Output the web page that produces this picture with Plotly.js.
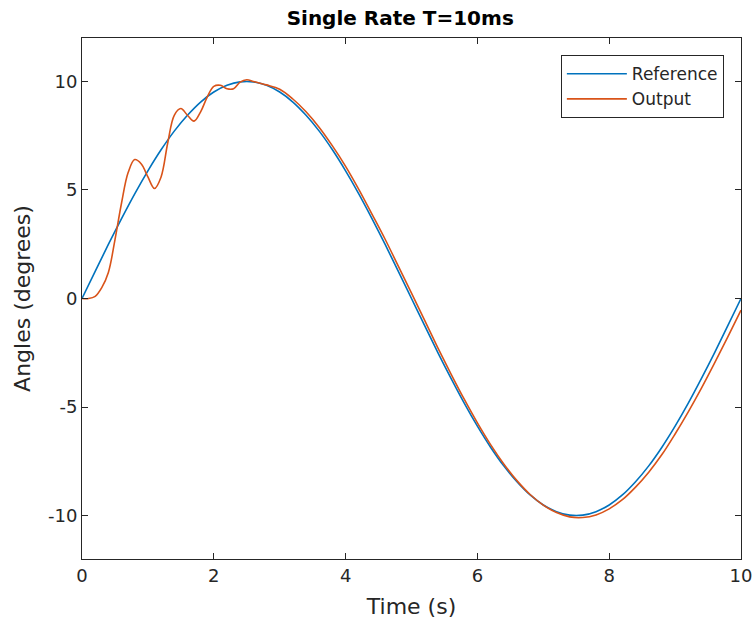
<!DOCTYPE html>
<html>
<head>
<meta charset="utf-8">
<script src="https://cdn.plot.ly/plotly-3.0.1.min.js"></script>
<style>html,body{margin:0;padding:0;background:#fff;}#chart{width:756px;height:623px;}</style>
</head>
<body>
<div id="chart"></div>
<script>
// Reference series (time in s, angle in degrees)
const refTime = [0,0.2,0.4,0.6,0.8,1.0,1.2,1.4,1.6,1.8,2.0,2.2,2.4,2.6,2.8,3.0,3.2,3.4,3.6,3.8,4.0,4.2,4.4,4.6,4.8,5.0,5.2,5.4,5.6,5.8,6.0,6.2,6.4,6.6,6.8,7.0,7.2,7.4,7.6,7.8,8.0,8.2,8.4,8.6,8.8,9.0,9.2,9.4,9.6,9.8,10.0];
const refAngle = [0,1.25,2.49,3.68,4.82,5.88,6.85,7.71,8.44,9.05,9.51,9.82,9.98,9.98,9.82,9.51,9.05,8.44,7.71,6.85,5.88,4.82,3.68,2.49,1.25,0,-1.25,-2.49,-3.68,-4.82,-5.88,-6.85,-7.71,-8.44,-9.05,-9.51,-9.82,-9.98,-9.98,-9.82,-9.51,-9.05,-8.44,-7.71,-6.85,-5.88,-4.82,-3.68,-2.49,-1.25,0];

// Output series
const outTime = [0,0.1,0.2,0.3,0.4,0.5,0.6,0.7,0.8,0.9,1.0,1.1,1.2,1.3,1.4,1.5,1.6,1.7,1.8,1.9,2.0,2.1,2.2,2.3,2.4,2.5,2.6,2.7,2.8,3.0,3.2,3.4,3.6,3.8,4.0,4.2,4.4,4.6,4.8,5.0,5.2,5.4,5.6,5.8,6.0,6.2,6.4,6.6,6.8,7.0,7.2,7.4,7.6,7.8,8.0,8.2,8.4,8.6,8.8,9.0,9.2,9.4,9.6,9.8,10.0];
const outAngle = [0,0.0,0.1,0.5,1.2,2.7,4.4,5.8,6.4,6.2,5.6,5.07,5.6,7.15,8.44,8.75,8.44,8.17,8.6,9.28,9.77,9.82,9.66,9.66,9.97,10.08,10.0,9.92,9.84,9.64,9.19,8.60,7.88,7.03,6.09,5.03,3.89,2.73,1.49,0.25,-1.01,-2.27,-3.48,-4.64,-5.73,-6.73,-7.62,-8.39,-9.03,-9.52,-9.86,-10.06,-10.09,-9.97,-9.69,-9.27,-8.69,-8.00,-7.19,-6.24,-5.22,-4.13,-2.97,-1.77,-0.54];

const xTicks = [0,2,4,6,8,10];
const yTicks = [-10,-5,0,5,10];

const axisColor = '#262626';
const font = 'DejaVu Sans, sans-serif';

const traces = [
  {x: refTime, y: refAngle, type: 'scatter', mode: 'lines', name: 'Reference',
   line: {color: '#0072BD', width: 1.6, shape: 'spline', smoothing: 1}},
  {x: outTime, y: outAngle, type: 'scatter', mode: 'lines', name: 'Output',
   line: {color: '#D95319', width: 1.6, shape: 'spline', smoothing: 1}}
];

const layout = {
  width: 756, height: 623,
  margin: {l: 82, r: 15, t: 38, b: 64},
  paper_bgcolor: '#fff', plot_bgcolor: '#fff',
  font: {family: font, size: 18, color: axisColor},
  title: {text: '<b>Single Rate T=10ms</b>', x: 0.5294, xanchor: 'center', y: 0.971, yanchor: 'middle',
          font: {family: font, size: 20, color: '#000'}},
  xaxis: {range: [0, 10], tickvals: xTicks, ticktext: xTicks.map(String),
          ticks: 'inside', ticklen: 6, tickcolor: axisColor, showline: true, linecolor: axisColor,
          linewidth: 1, mirror: 'ticks', showgrid: false, zeroline: false,
          tickfont: {family: font, size: 18, color: axisColor},
          title: {text: 'Time (s)', font: {family: font, size: 22, color: axisColor}, standoff: 14}},
  yaxis: {range: [-12, 12], tickvals: yTicks, ticktext: yTicks.map(String),
          ticks: 'inside', ticklen: 6, tickcolor: axisColor, showline: true, linecolor: axisColor,
          linewidth: 1, mirror: 'ticks', showgrid: false, zeroline: false,
          tickfont: {family: font, size: 18, color: axisColor},
          title: {text: 'Angles (degrees)', font: {family: font, size: 22, color: axisColor}, standoff: 11}},
  showlegend: true,
  legend: {x: 0.974, xanchor: 'right', y: 0.967, yanchor: 'top',
           bgcolor: '#fff', bordercolor: axisColor, borderwidth: 1,
           font: {family: font, size: 17, color: axisColor},
           itemwidth: 60, tracegroupgap: 0}
};

Plotly.newPlot('chart', traces, layout, {displayModeBar: false, staticPlot: true});
</script>
</body>
</html>
